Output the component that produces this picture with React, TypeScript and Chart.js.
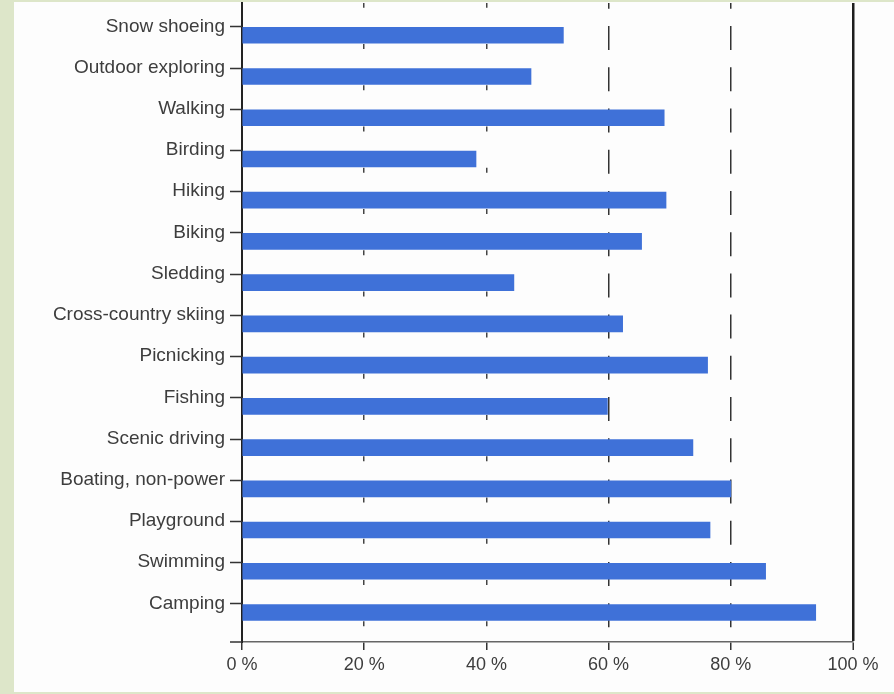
import React, { useEffect, useRef } from 'react';
import { Chart, registerables } from 'chart.js';

Chart.register(...registerables);

const categories = [
  'Snow shoeing',
  'Outdoor exploring',
  'Walking',
  'Birding',
  'Hiking',
  'Biking',
  'Sledding',
  'Cross-country skiing',
  'Picnicking',
  'Fishing',
  'Scenic driving',
  'Boating, non-power',
  'Playground',
  'Swimming',
  'Camping',
];

const shares = [52.6, 47.3, 69.1, 38.3, 69.4, 65.4, 44.5, 62.3, 76.2, 59.8, 73.8, 80.0, 76.6, 85.7, 93.9];

const xTickValues = [0, 20, 40, 60, 80, 100];
const xTickSuffix = ' %';

const LABEL_SHIFT = -9;
const FONT = '"Liberation Sans", Arial, sans-serif';
const TEXT = '#3d3d3d';
const BAR = '#3f71d8';
const PERIOD = 41.23;

const yTickMarks = {
  id: 'yTickMarks',
  afterDraw(chart: any) {
    const { ctx, chartArea, scales } = chart;
    const y = scales.y;
    ctx.save();
    ctx.strokeStyle = '#333';
    ctx.lineWidth = 1.5;
    ctx.beginPath();
    categories.forEach((_, i) => {
      const py = Math.round(y.getPixelForValue(i) + LABEL_SHIFT) + 0.5;
      ctx.moveTo(chartArea.left - 12, py);
      ctx.lineTo(chartArea.left, py);
    });
    ctx.moveTo(chartArea.left - 12, chartArea.bottom);
    ctx.lineTo(chartArea.left, chartArea.bottom);
    ctx.stroke();
    ctx.restore();
  },
};

export default function App() {
  const ref = useRef<HTMLCanvasElement | null>(null);

  useEffect(() => {
    if (!ref.current) return;
    const chart = new Chart(ref.current, {
      type: 'bar',
      data: {
        datasets: [
          {
            data: shares.map((v, i) => ({ x: v, y: i })),
            backgroundColor: BAR,
            borderWidth: 0,
            barThickness: 16,
          },
        ],
      },
      options: {
        indexAxis: 'y',
        animation: false,
        responsive: false,
        devicePixelRatio: 1,
        layout: { padding: { top: 1, right: 41, left: 0, bottom: 0 } },
        plugins: { legend: { display: false }, tooltip: { enabled: false } },
        scales: {
          x: {
            type: 'linear',
            min: xTickValues[0],
            max: xTickValues[xTickValues.length - 1],
            bounds: 'data',
            afterBuildTicks: (scale: any) => {
              scale.ticks = xTickValues.map((v) => ({ value: v }));
            },
            afterFit: (scale: any) => {
              scale.height = 50;
            },
            ticks: {
              stepSize: 20,
              padding: 4,
              maxRotation: 0,
              color: TEXT,
              font: { family: FONT, size: 18 },
              callback: (v: any) => `${v}${xTickSuffix}`,
            },
            grid: {
              drawOnChartArea: true,
              drawTicks: true,
              tickLength: 8,
              tickColor: '#333',
              tickWidth: 1.5,
              color: (c: any) => {
                const v = c.tick ? c.tick.value : null;
                if (v === 0) return 'rgba(0,0,0,0)';
                if (v === 100) return '#1e1e1e';
                if (v === 20 || v === 40) return '#444';
                return '#333';
              },
              lineWidth: (c: any) => (c.tick && c.tick.value === 100 ? 2.5 : 1.5),
            },
            border: {
              display: true,
              color: '#666',
              width: 1.5,
              dash: (c: any) => {
                if (!c.tick) return [];
                const v = c.tick.value;
                if (v === 20 || v === 40) return [5, PERIOD - 5];
                if (v === 60 || v === 80) return [24, PERIOD - 24];
                return [];
              },
              dashOffset: (c: any) => {
                if (!c.tick) return 0;
                const v = c.tick.value;
                if (v === 20 || v === 40) return PERIOD - 41;
                if (v === 60 || v === 80) return PERIOD - 23;
                return 0;
              },
            },
          },
          y: {
            type: 'linear',
            reverse: true,
            offset: false,
            bounds: 'data',
            min: -0.783,
            max: 14.716,
            afterBuildTicks: (scale: any) => {
              scale.ticks = categories.map((_, i) => ({ value: i }));
            },
            afterFit: (scale: any) => {
              scale.width = 228;
              scale.paddingTop = 0;
              scale.paddingBottom = 0;
            },
            ticks: {
              stepSize: 1,
              includeBounds: false,
              autoSkip: false,
              padding: 17,
              labelOffset: LABEL_SHIFT,
              color: TEXT,
              font: { family: FONT, size: 19 },
              callback: (v: any) => (Number.isInteger(v) && categories[v] ? categories[v] : ''),
            },
            grid: { display: true, offset: false, drawOnChartArea: false, drawTicks: false },
            border: { display: true, color: '#222', width: 2 },
          },
        },
      },
      plugins: [yTickMarks],
    });
    return () => chart.destroy();
  }, []);

  return (
    <div
      style={{
        position: 'fixed',
        left: 0,
        top: 0,
        width: 894,
        height: 694,
        background: '#dde6c9',
        overflow: 'hidden',
      }}
    >
      <div style={{ position: 'absolute', left: 14, top: 2, width: 880, height: 690, background: '#fdfdfd' }}>
        <canvas ref={ref} width={880} height={690} style={{ display: 'block', width: 880, height: 690 }} />
      </div>
    </div>
  );
}
